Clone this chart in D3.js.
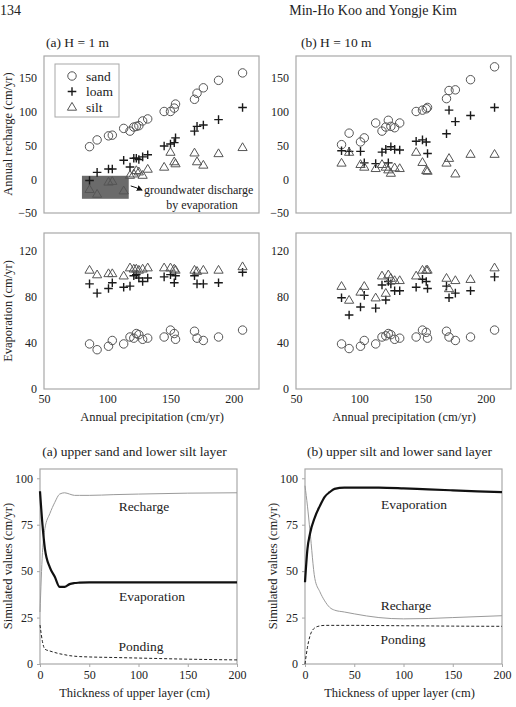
<!DOCTYPE html>
<html>
<head>
<meta charset="utf-8">
<script src="https://cdn.jsdelivr.net/npm/d3@7"></script>
<style>
  body { margin: 0; background: #fff; }
  svg text { font-family: "Liberation Serif", "Times New Roman", serif; fill: #222; }
</style>
</head>
<body>
<svg id="fig" width="516" height="707"></svg>
<script>
// annual precipitation (cm/yr), same years for every series
const precip = [86, 92, 101, 104, 113, 118, 121, 123, 125, 128, 132, 145, 150, 153, 154, 169, 171, 176, 188, 207];

// annual recharge, H = 1 m
const rechSand1 = [48, 58, 64, 65, 75, 71, 77, 78, 79, 86, 89, 100, 100, 105, 111, 118, 127, 135, 146, 157];
const rechLoam1 = [-2, 10, 15, 15, 28, 18, 31, 31, 29, 33, 36, 49, 52, 54, 61, 71, 78, 80, 88, 106];
const rechSilt1 = [-15, -22, -4, -3, -17, 6, 8, 13, 11, 6, 15, 18, 40, 26, 23, 39, 26, 21, 38, 47];
// annual recharge, H = 10 m
const rechSand10 = [51, 68, 55, 61, 83, 71, 77, 87, 78, 76, 83, 100, 102, 104, 106, 119, 131, 132, 147, 166];
const rechLoam10 = [42, 41, 41, 24, 23, 40, 44, 24, 48, 44, 43, 56, 58, 55, 38, 67, 102, 85, 94, 106];
const rechSilt10 = [24, 40, 22, 18, 16, 22, 18, 14, 9, 17, 16, 40, 25, 13, 12, 24, 31, 8, 37, 37];

// evaporation, H = 1 m
const evapSand1 = [39, 34, 37, 42, 39, 45, 44, 48, 47, 43, 44, 45, 51, 48, 43, 50, 44, 42, 45, 51];
const evapLoam1 = [91, 83, 87, 92, 88, 89, 98, 99, 96, 93, 96, 97, 99, 92, 98, 98, 91, 91, 92, 101];
const evapSilt1 = [103, 99, 100, 100, 98, 105, 104, 104, 103, 104, 105, 105, 105, 104, 103, 103, 102, 103, 103, 106];
// evaporation, H = 10 m
const evapSand10 = [39, 35, 37, 42, 39, 45, 46, 48, 47, 43, 44, 45, 51, 49, 44, 50, 45, 42, 45, 51];
const evapLoam10 = [79, 64, 71, 81, 70, 90, 77, 93, 91, 85, 85, 88, 95, 93, 87, 89, 79, 83, 85, 97];
const evapSilt10 = [89, 77, 84, 89, 79, 98, 83, 99, 96, 94, 94, 98, 103, 103, 103, 96, 87, 94, 95, 105];

// simulated values vs thickness of upper layer
const thickA = [0, 2.5, 5, 10, 15, 20, 25, 30, 35, 40, 50, 75, 100, 150, 200];
const rechA = [28, 60, 73, 81, 87, 91.5, 92.2, 91.5, 90.8, 90.8, 90.8, 91.2, 91.5, 92, 92.2];
const evapA = [93, 75, 62, 52, 47, 41.5, 41.5, 43, 43.6, 43.8, 44, 44, 44, 44, 44];
const pondA = [21, 12, 8, 7, 6.2, 5.5, 5, 4.5, 4.2, 4, 3.8, 3.5, 3.2, 2.6, 2.2];

const thickB = [0, 2.5, 5, 10, 15, 20, 25, 30, 40, 50, 75, 100, 125, 150, 200];
const rechB = [96, 85, 72, 46, 39, 34, 30.5, 29, 28, 27, 25, 24.3, 24.5, 25, 26];
const evapB = [44, 62, 70, 79, 85, 90, 92.5, 94.3, 95, 95, 95, 94.6, 94, 93.5, 92.5];
const pondB = [0, 9, 15, 19.5, 20.5, 20.8, 20.8, 20.8, 20.8, 20.8, 20.7, 20.6, 20.5, 20.4, 20.3];

const svg = d3.select("#fig");
const frameColor = "#a8a8a8";

// header
svg.append("text").attr("x", 0).attr("y", 15).style("font-size", "14px").text("134");
svg.append("text").attr("x", 373).attr("y", 15).attr("text-anchor", "middle")
  .style("font-size", "14px").text("Min-Ho Koo and Yongje Kim");

function frame(g, x, y) {
  g.append("rect")
    .attr("x", x.range()[0]).attr("y", y.range()[1])
    .attr("width", x.range()[1] - x.range()[0])
    .attr("height", y.range()[0] - y.range()[1])
    .attr("fill", "none").attr("stroke", frameColor).attr("stroke-width", 1.2);
}

function yAxis(g, x, y, ticks, tickLen, pad) {
  const ax = g.append("g")
    .attr("transform", `translate(${x.range()[0]},0)`)
    .call(d3.axisLeft(y).tickValues(ticks).tickSize(tickLen).tickPadding(pad));
  ax.select(".domain").remove();
  ax.selectAll("line").attr("stroke", frameColor);
  ax.selectAll("text").style("font-size", "12px").style("font-family", "Liberation Serif");
}

function xAxis(g, x, y, ticks, tickLen, pad) {
  const ax = g.append("g")
    .attr("transform", `translate(0,${y.range()[0]})`)
    .call(d3.axisBottom(x).tickValues(ticks).tickSize(tickLen).tickPadding(pad));
  ax.select(".domain").remove();
  ax.selectAll("line").attr("stroke", frameColor);
  ax.selectAll("text").style("font-size", "12px").style("font-family", "Liberation Serif");
}

const circlePath = d3.symbol(d3.symbolCircle, 56)();
const trianglePath = "M0,-4.6L4.6,3.2L-4.6,3.2Z";
const plusPath = "M-4.3,0H4.3M0,-4.3V4.3";

function markers(g, x, y, vals, kind) {
  const sel = g.append("g").selectAll("path")
    .data(precip.map((p, i) => [p, vals[i]]))
    .join("path")
    .attr("transform", d => `translate(${x(d[0])},${y(d[1])})`);
  if (kind === "sand") {
    sel.attr("d", circlePath).attr("fill", "none").attr("stroke", "#555").attr("stroke-width", 1);
  } else if (kind === "loam") {
    sel.attr("d", plusPath).attr("fill", "none").attr("stroke", "#1a1a1a").attr("stroke-width", 1.4);
  } else {
    sel.attr("d", trianglePath).attr("fill", "none").attr("stroke", "#555").attr("stroke-width", 1);
  }
}

function scatterPanel(left, right, top, bottom, yDomain, yTicks, showX) {
  const g = svg.append("g");
  const x = d3.scaleLinear().domain([50, 220]).range([left, right]);
  const y = d3.scaleLinear().domain(yDomain).range([bottom, top]);
  frame(g, x, y);
  yAxis(g, x, y, yTicks, 0, 7);
  if (showX) xAxis(g, x, y, [50, 100, 150, 200], 0, 5);
  return { g, x, y };
}

// ---------- top row: annual recharge ----------
const pA1 = scatterPanel(44, 259, 56, 213, [-50, 182], [-50, 0, 50, 100, 150], false);
// shaded area: groundwater discharge by evaporation
pA1.g.append("rect")
  .attr("x", pA1.x(80)).attr("y", pA1.y(5))
  .attr("width", pA1.x(117) - pA1.x(80)).attr("height", pA1.y(-29) - pA1.y(5))
  .attr("fill", "#6b6b6b");
markers(pA1.g, pA1.x, pA1.y, rechSand1, "sand");
markers(pA1.g, pA1.x, pA1.y, rechLoam1, "loam");
markers(pA1.g, pA1.x, pA1.y, rechSilt1, "silt");

svg.append("defs").append("marker")
  .attr("id", "arr").attr("viewBox", "0 0 10 10").attr("refX", 8).attr("refY", 5)
  .attr("markerWidth", 6).attr("markerHeight", 6).attr("orient", "auto")
  .append("path").attr("d", "M0,0L10,5L0,10Z").attr("fill", "#111");
pA1.g.append("path")
  .attr("d", `M${pA1.x(117) + 2},${pA1.y(-10)} Q${pA1.x(117) + 7},${pA1.y(-12)} ${pA1.x(117) + 13},${pA1.y(-16)}`)
  .attr("fill", "none").attr("stroke", "#111").attr("stroke-width", 1)
  .attr("marker-end", "url(#arr)");
pA1.g.append("text").attr("x", 144).attr("y", 194).style("font-size", "12px").text("groundwater discharge");
pA1.g.append("text").attr("x", 202).attr("y", 208.5).attr("text-anchor", "middle").style("font-size", "12px").text("by evaporation");

// legend
const lg = pA1.g.append("g");
lg.append("rect").attr("x", 55).attr("y", 64).attr("width", 64).attr("height", 53)
  .attr("fill", "#fff").attr("stroke", frameColor).attr("stroke-width", 1);
const legendItems = [["sand", circlePath, "#555", 1], ["loam", plusPath, "#1a1a1a", 1.4], ["silt", trianglePath, "#555", 1]];
legendItems.forEach((it, i) => {
  const cy = 76 + i * 15.5;
  lg.append("path").attr("d", it[1]).attr("transform", `translate(72,${cy})`)
    .attr("fill", "none").attr("stroke", it[2]).attr("stroke-width", it[3]);
  lg.append("text").attr("x", 86).attr("y", cy + 4.5).style("font-size", "13.5px").text(it[0]);
});

svg.append("text").attr("x", 46).attr("y", 47).style("font-size", "13.5px").text("(a) H = 1 m");
svg.append("text").attr("x", 301).attr("y", 47).style("font-size", "13.5px").text("(b) H = 10 m");
svg.append("text").attr("transform", "translate(12,134) rotate(-90)").attr("text-anchor", "middle")
  .style("font-size", "12.5px").text("Annual recharge (cm/yr)");

const pB1 = scatterPanel(296, 511, 56, 213, [-50, 182], [-50, 0, 50, 100, 150], false);
markers(pB1.g, pB1.x, pB1.y, rechSand10, "sand");
markers(pB1.g, pB1.x, pB1.y, rechLoam10, "loam");
markers(pB1.g, pB1.x, pB1.y, rechSilt10, "silt");

// ---------- middle row: evaporation ----------
const pA2 = scatterPanel(44, 259, 233, 389, [0, 135], [0, 40, 80, 120], true);
markers(pA2.g, pA2.x, pA2.y, evapSand1, "sand");
markers(pA2.g, pA2.x, pA2.y, evapLoam1, "loam");
markers(pA2.g, pA2.x, pA2.y, evapSilt1, "silt");
const pB2 = scatterPanel(296, 511, 233, 389, [0, 135], [0, 40, 80, 120], true);
markers(pB2.g, pB2.x, pB2.y, evapSand10, "sand");
markers(pB2.g, pB2.x, pB2.y, evapLoam10, "loam");
markers(pB2.g, pB2.x, pB2.y, evapSilt10, "silt");

svg.append("text").attr("transform", "translate(12,311) rotate(-90)").attr("text-anchor", "middle")
  .style("font-size", "12.5px").text("Evaporation (cm/yr)");
svg.append("text").attr("x", 152).attr("y", 421).attr("text-anchor", "middle")
  .style("font-size", "12.5px").text("Annual precipitation (cm/yr)");
svg.append("text").attr("x", 404).attr("y", 421).attr("text-anchor", "middle")
  .style("font-size", "12.5px").text("Annual precipitation (cm/yr)");

// ---------- bottom row: simulated values ----------
function linePanel(left, right, title, thick, rech, evap, pond, labels) {
  const g = svg.append("g");
  const x = d3.scaleLinear().domain([0, 200]).range([left, right]);
  const y = d3.scaleLinear().domain([0, 105]).range([664, 469]);
  frame(g, x, y);
  yAxis(g, x, y, [0, 25, 50, 75, 100], 3, 4);
  xAxis(g, x, y, [0, 50, 100, 150, 200], 3, 3);
  const line = vals => d3.line().curve(d3.curveMonotoneX)
    .x((d, i) => x(thick[i])).y(d => y(d))(vals);
  g.append("path").attr("d", line(rech)).attr("fill", "none").attr("stroke", "#9a9a9a").attr("stroke-width", 1);
  g.append("path").attr("d", line(evap)).attr("fill", "none").attr("stroke", "#111").attr("stroke-width", 2.2);
  g.append("path").attr("d", line(pond)).attr("fill", "none").attr("stroke", "#222").attr("stroke-width", 1)
    .attr("stroke-dasharray", "3,2");
  labels.forEach(l => {
    g.append("text").attr("x", l[1]).attr("y", l[2]).attr("text-anchor", "middle")
      .style("font-size", "13.5px").text(l[0]);
  });
  const cx = (left + right) / 2;
  svg.append("text").attr("x", cx - 4).attr("y", 456).attr("text-anchor", "middle")
    .style("font-size", "13.5px").text(title);
  svg.append("text").attr("x", cx - 4).attr("y", 697).attr("text-anchor", "middle")
    .style("font-size", "12.5px").text("Thickness of upper layer (cm)");
  svg.append("text").attr("transform", `translate(${left - 28},566) rotate(-90)`).attr("text-anchor", "middle")
    .style("font-size", "12.5px").text("Simulated values (cm/yr)");
}

linePanel(40, 237, "(a) upper sand and lower silt layer", thickA, rechA, evapA, pondA,
  [["Recharge", 144, 511], ["Evaporation", 152, 601], ["Ponding", 141, 651]]);
linePanel(305, 502, "(b) upper silt and lower sand layer", thickB, rechB, evapB, pondB,
  [["Evaporation", 414, 509], ["Recharge", 406, 610], ["Ponding", 403, 644]]);
</script>
</body>
</html>
